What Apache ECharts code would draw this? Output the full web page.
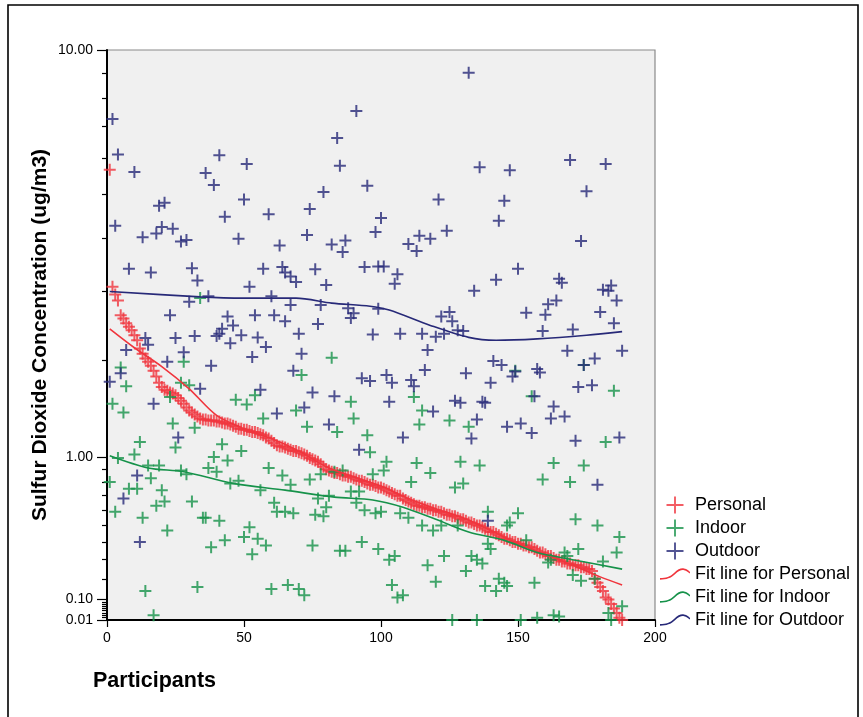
<!DOCTYPE html>
<html><head><meta charset="utf-8">
<script src="https://cdn.jsdelivr.net/npm/echarts@6/dist/echarts.min.js"></script>
<style>html,body{margin:0;padding:0;background:#fff}#c{width:863px;height:717px}</style>
</head><body><div id="c"></div>
<script>
// ---- data ----
const personal = [5.66,3.08,2.95,2.85,2.62,2.57,2.50,2.45,2.40,2.33,
2.26,2.15,2.08,2.02,1.98,1.93,1.87,1.80,1.73,1.68,
1.65,1.64,1.62,1.61,1.59,1.56,1.53,1.50,1.46,1.43,
1.41,1.39,1.37,1.35,1.34,1.34,1.33,1.33,1.33,1.32,
1.32,1.31,1.30,1.30,1.29,1.28,1.27,1.25,1.25,1.24,
1.24,1.23,1.22,1.22,1.21,1.20,1.19,1.17,1.16,1.14,
1.12,1.10,1.09,1.09,1.08,1.07,1.06,1.05,1.05,1.04,
1.03,1.02,1.01,0.99,0.98,0.97,0.96,0.94,0.92,0.90,
0.89,0.88,0.87,0.87,0.86,0.85,0.85,0.84,0.84,0.83,
0.82,0.81,0.81,0.80,0.79,0.78,0.78,0.77,0.76,0.76,
0.75,0.74,0.73,0.72,0.71,0.70,0.70,0.68,0.67,0.66,
0.65,0.64,0.63,0.63,0.62,0.62,0.61,0.61,0.60,0.60,
0.59,0.59,0.58,0.57,0.57,0.56,0.56,0.55,0.54,0.54,
0.53,0.52,0.52,0.51,0.50,0.50,0.49,0.48,0.47,0.46,
0.46,0.45,0.44,0.43,0.42,0.42,0.41,0.40,0.40,0.39,
0.39,0.38,0.38,0.37,0.37,0.36,0.35,0.34,0.34,0.33,
0.32,0.32,0.31,0.30,0.30,0.29,0.29,0.28,0.28,0.27,
0.27,0.27,0.26,0.26,0.25,0.25,0.24,0.20,0.18,0.16,
0.14,0.11,0.10,0.08,0.06,0.04,0.02,0.01];

const indoor = [[34,2.89],
[28,1.98],[5,1.91],[7,1.69],[2,1.50],[6,1.41],[27,1.73],[30,1.70],[23,1.57],[47,1.54],[24,1.30],[32,1.26],[12,1.13],[25,1.08],[42,1.11],[39,1.00],[44,0.97],[10,1.02],[4,0.99],[15,0.93],[19,0.93],[37,0.91],[40,0.88],[27,0.89],[29,0.86],[1,0.80],[16,0.83],[8,0.75],[11,0.75],[20,0.74],[45,0.79],[48,0.81],[18,0.63],[21,0.66],[31,0.66],[3,0.59],[13,0.55],[35,0.55],[36,0.55],[41,0.53],[22,0.47],[43,0.41],[38,0.37],[14,0.14],[33,0.16],[17,0.03],
[82,2.03],[71,1.82],[51,1.49],[54,1.59],[69,1.43],[57,1.35],[73,1.27],[89,1.52],[90,1.35],[84,1.22],[95,1.19],[96,1.04],[49,1.05],[59,0.91],[64,0.85],[67,0.78],[74,0.82],[78,0.86],[83,0.88],[86,0.89],[97,0.86],[56,0.74],[61,0.65],[62,0.59],[65,0.59],[68,0.58],[76,0.57],[79,0.56],[77,0.68],[81,0.70],[80,0.62],[89,0.73],[92,0.73],[91,0.65],[94,0.60],[52,0.49],[50,0.43],[55,0.42],[58,0.38],[53,0.33],[75,0.38],[85,0.35],[87,0.35],[93,0.40],[60,0.15],[66,0.17],[70,0.15],[72,0.12],
[112,1.57],[115,1.43],[114,1.29],[125,1.33],[132,1.27],[102,0.96],[101,0.89],[113,0.95],[118,0.87],[129,0.96],[136,0.93],[111,0.80],[127,0.76],[130,0.79],[98,0.58],[100,0.59],[107,0.58],[110,0.55],[115,0.50],[119,0.47],[122,0.50],[128,0.50],[139,0.59],[99,0.36],[103,0.30],[105,0.32],[117,0.27],[123,0.32],[133,0.32],[135,0.30],[137,0.28],[131,0.24],[120,0.185],[104,0.17],[108,0.12],[106,0.11],[139,0.39],[140,0.36],[138,0.165],[142,0.14],[143,0.20],[145,0.18],[126,0.01],[135,0.01],
[174,1.94],[185,1.64],[155,1.58],[149,1.87],[182,1.13],[163,0.95],[174,0.93],[159,0.82],[169,0.80],[150,0.58],[147,0.52],[146,0.50],[171,0.54],[179,0.50],[187,0.43],[153,0.41],[172,0.36],[186,0.34],[167,0.34],[168,0.32],[181,0.29],[161,0.285],[162,0.30],[170,0.22],[173,0.19],[156,0.18],[146,0.165],[178,0.20],[188,0.07],[183,0.04],[151,0.01],[157,0.02],[163,0.03],[165,0.025],[184,0.01]];

const outdoor = [[2,7.24],[4,6.1],[10,5.6],[36,5.57],[41,6.08],[51,5.82],[39,5.25],[50,4.88],[19,4.73],[21,4.80],[3,4.27],[43,4.47],[59,4.53],[74,4.65],[79,5.07],[84,6.61],[91,7.52],[85,5.77],[95,5.23],[98,4.13],[13,4.02],[18,4.10],[20,4.24],[24,4.20],[27,3.93],[29,3.96],[48,3.99],[63,3.85],[73,4.07],[82,3.87],[87,3.95],[86,3.72],[8,3.40],[16,3.33],[31,3.41],[33,3.19],[57,3.40],[64,3.43],[65,3.33],[67,3.26],[69,3.16],[76,3.39],[80,3.11],[94,3.43],[99,3.44],[52,3.08],[30,2.83],[37,2.92],[60,2.92],[67,2.78],[78,2.78],[88,2.73],[90,2.65],[89,2.58],[99,2.72],[23,2.62],[44,2.60],[46,2.47],[49,2.33],[54,2.62],[61,2.62],[65,2.53],[77,2.49],[42,2.42],[41,2.35],[70,2.35],[97,2.34],[14,2.29],[25,2.29],[32,2.32],[40,2.32],[55,2.30],
[132,9.0],[136,5.73],[147,5.65],[169,5.94],[182,5.82],[175,5.09],[121,4.88],[145,4.85],[143,4.38],[100,4.44],[124,4.16],[173,3.94],[110,3.88],[114,4.05],[118,3.99],[113,3.74],[101,3.44],[106,3.30],[105,3.13],[150,3.40],[142,3.20],[134,3.01],[165,3.22],[166,3.15],[181,3.03],[183,3.01],[184,3.10],[186,2.85],[153,2.66],[160,2.63],[161,2.79],[164,2.85],[180,2.67],[185,2.50],[125,2.67],[122,2.60],[126,2.53],[128,2.40],[130,2.39],[120,2.31],[123,2.35],[107,2.35],[115,2.35],[159,2.39],[170,2.41],
[15,2.20],[45,2.22],[7,2.13],[28,2.10],[22,1.98],[38,1.93],[5,1.84],[1,1.74],[34,1.66],[17,1.50],[26,1.17],[11,0.85],[6,0.68],[12,0.40],
[58,2.17],[53,2.04],[71,2.08],[68,1.87],[56,1.65],[75,1.62],[83,1.58],[62,1.40],[72,1.46],[81,1.29],[93,1.78],[96,1.75],[92,1.06],
[117,2.13],[116,1.88],[141,1.99],[144,1.94],[131,1.84],[140,1.73],[102,1.82],[104,1.73],[111,1.76],[112,1.69],[103,1.52],[119,1.42],[127,1.53],[129,1.51],[137,1.52],[138,1.51],[135,1.34],[133,1.16],[108,1.17],[146,1.27],[139,0.53],
[168,2.12],[188,2.12],[178,2.02],[174,1.94],[149,1.86],[148,1.80],[157,1.89],[158,1.85],[156,1.58],[163,1.47],[162,1.35],[167,1.37],[172,1.68],[177,1.70],[151,1.30],[155,1.21],[171,1.14],[187,1.17],[179,0.78]];

const personalFitIds = [1,10,20,30,40,50,60,70,80,90,100,110,120,130,140,150,160,170,180,188];
const personalFit = [2.42,2.16,1.92,1.66,1.38,1.25,1.16,1.05,0.92,0.84,0.77,0.68,0.61,0.55,0.47,0.39,0.33,0.27,0.21,0.17];
const indoorFitIds = [1,15,28,46,65,83,97,108,120,132,145,157,170,188];
const indoorFit = [1.01,0.91,0.88,0.79,0.74,0.69,0.67,0.62,0.54,0.46,0.41,0.34,0.30,0.25];
const outdoorFitIds = [1,34,50,69,82,96,103,118,132,142,157,175,188];
const outdoorFit = [3.0,2.91,2.89,2.89,2.81,2.76,2.70,2.47,2.30,2.26,2.28,2.33,2.38];

const yMajorValues = [0.01, 0.1, 1, 10];
const yMajorLabels = ['0.01', '0.10', '1.00', '10.00'];
const yMinorValues = [0.02,0.03,0.04,0.05,0.06,0.07,0.08,0.09,0.2,0.3,0.4,0.5,0.6,0.7,0.8,0.9,2,3,4,5,6,7,8,9];
const xTicks = [0, 50, 100, 150, 200];

// ---- axis transform: the chart's y scale is log10(v + 1) ----
const T = v => Math.log10(v + 1);

const RED = '#f0353d', GREEN = '#16924a', NAVY = '#272978';
const FONT = '"Liberation Sans", Arial, sans-serif';
const CROSS = 'path://M0,5H12V7H0Z M5,0H7V12H5Z';
const LCROSS = 'path://M0,7.1H16V8.9H0Z M7.1,0H8.9V16H7.1Z';
const WAVE = 'path://M0,10 C6,10 10,9 14,5 C18,1 21,0 24,0.5 C27,1 29,3 30,4 L30,5.6 C28.5,4.4 26.5,2.7 24,2.2 C21.5,1.7 18.8,2.7 15,6.4 C11,10.3 6.5,11.7 0,11.7 Z';

const chart = echarts.init(document.getElementById('c'), null, {renderer: 'canvas'});
const yMin = T(0.01), yMax = T(10);

chart.setOption({
  animation: false,
  backgroundColor: '#fff',
  textStyle: {fontFamily: FONT},
  title: {
    text: 'Participants', left: 93, top: 670, padding: 0,
    textStyle: {fontSize: 21.5, fontWeight: 'bold', color: '#000', fontFamily: FONT}
  },
  graphic: [{
    type: 'rect', silent: true, z: -1,
    shape: {x: 8, y: 5, width: 850, height: 740},
    style: {fill: 'none', stroke: '#000', lineWidth: 1.6}
  }],
  legend: {
    orient: 'vertical', left: 660, top: 496,
    itemWidth: 30, itemHeight: 17, itemGap: 5, padding: 0,
    textStyle: {fontSize: 18, color: '#000', fontFamily: FONT},
    selectedMode: false,
    data: [
      {name: 'Personal', icon: LCROSS, itemStyle: {color: RED}},
      {name: 'Indoor', icon: LCROSS, itemStyle: {color: GREEN}},
      {name: 'Outdoor', icon: LCROSS, itemStyle: {color: NAVY}},
      {name: 'Fit line for Personal', icon: WAVE, itemStyle: {color: RED}},
      {name: 'Fit line for Indoor', icon: WAVE, itemStyle: {color: GREEN}},
      {name: 'Fit line for Outdoor', icon: WAVE, itemStyle: {color: NAVY}}
    ]
  },
  grid: {
    left: 107, right: 208, top: 50, bottom: 97, containLabel: false,
    show: true, backgroundColor: '#f0f0f0', borderColor: '#8a8a8a', borderWidth: 1.2
  },
  xAxis: {
    type: 'value', min: 0, max: 200, interval: 50,
    axisLine: {show: true, onZero: false, lineStyle: {color: '#000', width: 2}},
    axisTick: {show: true, length: 7, customValues: xTicks, lineStyle: {color: '#000', width: 1.2}},
    axisLabel: {show: true, customValues: xTicks, margin: 11, fontSize: 14, color: '#000', fontFamily: FONT},
    splitLine: {show: false}
  },
  yAxis: [{
    type: 'value', min: yMin, max: yMax,
    name: 'Sulfur Dioxide Concentration (ug/m3)', nameLocation: 'middle', nameGap: 56,
    nameMoveOverlap: false,
    nameTextStyle: {fontSize: 21, fontWeight: 'bold', color: '#000', fontFamily: FONT},
    axisLine: {show: true, onZero: false, lineStyle: {color: '#000', width: 2}},
    axisTick: {show: true, length: 10, customValues: yMajorValues.map(T), lineStyle: {color: '#000', width: 1.2}},
    axisLabel: {
      show: true, customValues: yMajorValues.map(T), margin: 14, fontSize: 14, color: '#000', fontFamily: FONT,
      formatter: function (val) {
        let best = 0;
        for (let i = 1; i < yMajorValues.length; i++) {
          if (Math.abs(T(yMajorValues[i]) - val) < Math.abs(T(yMajorValues[best]) - val)) best = i;
        }
        return yMajorLabels[best];
      }
    },
    splitLine: {show: false}
  }, {
    type: 'value', min: yMin, max: yMax, position: 'left',
    axisLine: {show: false},
    axisTick: {show: true, length: 5, customValues: yMinorValues.map(T), lineStyle: {color: '#000', width: 1.2}},
    axisLabel: {show: false},
    splitLine: {show: false}
  }],
  series: [
    {name: 'Personal', type: 'scatter', symbol: CROSS, symbolSize: 12, itemStyle: {color: RED},
     data: personal.map((v, i) => [i + 1, T(v)])},
    {name: 'Indoor', type: 'scatter', symbol: CROSS, symbolSize: 12, itemStyle: {color: GREEN},
     data: indoor.map(p => [p[0], T(p[1])])},
    {name: 'Outdoor', type: 'scatter', symbol: CROSS, symbolSize: 12, itemStyle: {color: NAVY},
     data: outdoor.map(p => [p[0], T(p[1])])},
    {name: 'Fit line for Personal', type: 'line', smooth: 0.3, showSymbol: false, symbol: 'none',
     itemStyle: {color: RED}, lineStyle: {color: RED, width: 1.6},
     data: personalFitIds.map((id, i) => [id, T(personalFit[i])])},
    {name: 'Fit line for Indoor', type: 'line', smooth: 0.3, showSymbol: false, symbol: 'none',
     itemStyle: {color: GREEN}, lineStyle: {color: GREEN, width: 1.6},
     data: indoorFitIds.map((id, i) => [id, T(indoorFit[i])])},
    {name: 'Fit line for Outdoor', type: 'line', smooth: 0.3, showSymbol: false, symbol: 'none',
     itemStyle: {color: NAVY}, lineStyle: {color: NAVY, width: 1.6},
     data: outdoorFitIds.map((id, i) => [id, T(outdoorFit[i])])}
  ]
});
</script>
</body></html>
